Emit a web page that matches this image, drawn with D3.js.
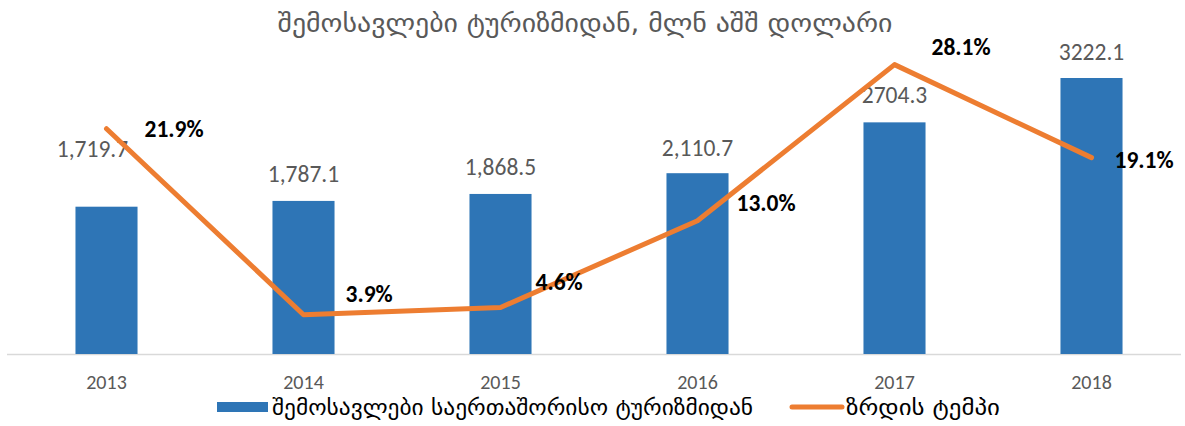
<!DOCTYPE html>
<html>
<head>
<meta charset="utf-8">
<script src="https://cdn.jsdelivr.net/npm/d3@7"></script>
<style>
  body { margin: 0; background: #fff; }
  svg { display: block; }
</style>
</head>
<body>
<svg id="chart" width="1185" height="426"></svg>
<script>
var years = ["2013", "2014", "2015", "2016", "2017", "2018"];
var revenue = [1719.7, 1787.1, 1868.5, 2110.7, 2704.3, 3222.1];
var revenueLabels = ["1,719.7", "1,787.1", "1,868.5", "2,110.7", "2704.3", "3222.1"];
var growth = [21.9, 3.9, 4.6, 13.0, 28.1, 19.1];
var growthLabels = ["21.9%", "3.9%", "4.6%", "13.0%", "28.1%", "19.1%"];

var titleText = "შემოსავლები ტურიზმიდან, მლნ აშშ დოლარი";
var legendBar = "შემოსავლები საერთაშორისო ტურიზმიდან";
var legendLine = "ზრდის ტემპი";

var svg = d3.select("#chart"),
    width = +svg.attr("width"),
    height = +svg.attr("height");

var geoFont = "'DejaVu Sans', 'Noto Sans', sans-serif";
var numFont = "Carlito, Calibri, Lato, 'Liberation Sans', sans-serif";

var x = d3.scaleBand()
    .domain(years)
    .range([8, 1190])
    .paddingInner(0.685)
    .paddingOuter(0.3425);

var yBar = d3.scaleLinear()
    .domain([0, 3500])
    .range([354, 54.2]);

var yPct = d3.scaleLinear()
    .domain([0, 30])
    .range([355, 45]);

// label nudges (labels were hand placed in the original)
var barLabelShift = [[-14, -31], [0, 0], [0, 0], [0, 2], [0, 0], [0, 1]];
var pctLabelShift = [[38, 8], [42, -13], [35, -17], [39, -10], [37, -10], [23, 10]];

// title
svg.append("text")
    .attr("x", 585)
    .attr("y", 32)
    .attr("text-anchor", "middle")
    .attr("textLength", 615)
    .attr("lengthAdjust", "spacingAndGlyphs")
    .style("font-family", geoFont)
    .style("font-size", "26px")
    .attr("fill", "#595959")
    .text(titleText);

// axis line
svg.append("line")
    .attr("x1", 7).attr("x2", 1181)
    .attr("y1", 354.5).attr("y2", 354.5)
    .attr("stroke", "#d9d9d9")
    .attr("stroke-width", 1.5);

// bars
svg.append("g").selectAll("rect")
    .data(revenue)
    .enter().append("rect")
    .attr("x", function(d, i) { return x(years[i]); })
    .attr("y", function(d) { return yBar(d); })
    .attr("width", x.bandwidth())
    .attr("height", function(d) { return yBar(0) - yBar(d); })
    .attr("fill", "#2e75b6");

// bar labels
svg.append("g").selectAll("text")
    .data(revenue)
    .enter().append("text")
    .attr("x", function(d, i) { return x(years[i]) + x.bandwidth() / 2 + barLabelShift[i][0]; })
    .attr("y", function(d, i) { return yBar(d) - 19 + barLabelShift[i][1]; })
    .attr("text-anchor", "middle")
    .style("font-family", numFont)
    .style("font-size", "23.5px")
    .attr("fill", "#595959")
    .text(function(d, i) { return revenueLabels[i]; });

// x axis labels
svg.append("g").selectAll("text")
    .data(years)
    .enter().append("text")
    .attr("x", function(d) { return x(d) + x.bandwidth() / 2; })
    .attr("y", 389)
    .attr("text-anchor", "middle")
    .style("font-family", numFont)
    .style("font-size", "20px")
    .attr("fill", "#595959")
    .text(function(d) { return d; });

// growth line
var line = d3.line()
    .x(function(d, i) { return x(years[i]) + x.bandwidth() / 2; })
    .y(function(d) { return yPct(d); });

svg.append("path")
    .datum(growth)
    .attr("d", line)
    .attr("fill", "none")
    .attr("stroke", "#ed7d31")
    .attr("stroke-width", 5)
    .attr("stroke-linejoin", "round")
    .attr("stroke-linecap", "round");

// growth labels
svg.append("g").selectAll("text")
    .data(growth)
    .enter().append("text")
    .attr("x", function(d, i) { return x(years[i]) + x.bandwidth() / 2 + pctLabelShift[i][0]; })
    .attr("y", function(d, i) { return yPct(d) + pctLabelShift[i][1]; })
    .style("font-family", numFont)
    .style("font-size", "23.5px")
    .style("font-weight", "bold")
    .attr("fill", "#000")
    .text(function(d, i) { return growthLabels[i]; });

// legend
var legend = svg.append("g");
legend.append("rect")
    .attr("x", 217).attr("y", 402)
    .attr("width", 51).attr("height", 10)
    .attr("fill", "#2e75b6");
legend.append("text")
    .attr("x", 272).attr("y", 415)
    .attr("textLength", 481)
    .attr("lengthAdjust", "spacingAndGlyphs")
    .style("font-family", geoFont)
    .style("font-size", "22px")
    .attr("fill", "#000")
    .text(legendBar);
legend.append("line")
    .attr("x1", 792).attr("x2", 842)
    .attr("y1", 407).attr("y2", 407)
    .attr("stroke", "#ed7d31")
    .attr("stroke-width", 5)
    .attr("stroke-linecap", "round");
legend.append("text")
    .attr("x", 846).attr("y", 415)
    .attr("textLength", 154)
    .attr("lengthAdjust", "spacingAndGlyphs")
    .style("font-family", geoFont)
    .style("font-size", "22px")
    .attr("fill", "#000")
    .text(legendLine);
</script>
</body>
</html>
